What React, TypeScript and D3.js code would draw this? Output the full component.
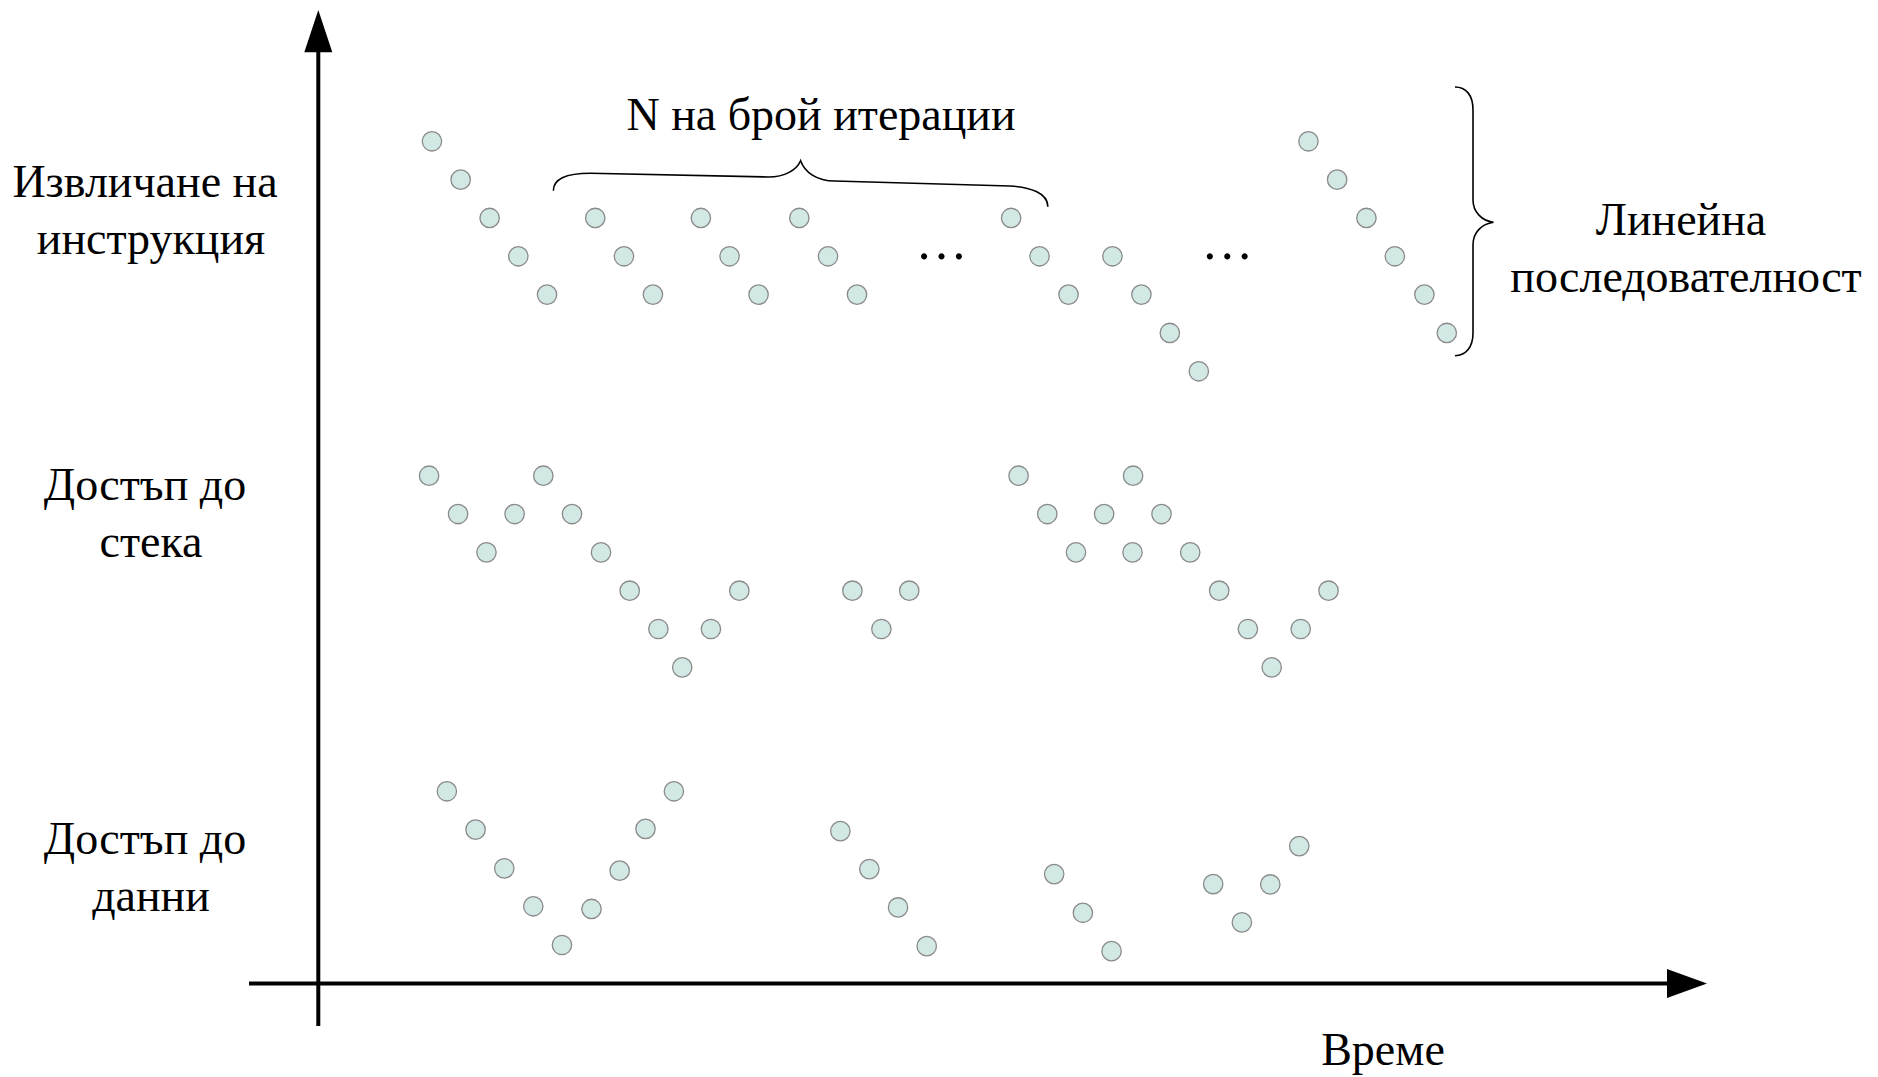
import * as d3 from "d3";
import * as React from "react";

// time in cycles (from the vertical axis), address level within the row
const rows = ["fetch", "stack", "data"];

const fetchPoints: [number, number][] = [
  [3.96, 0], [4.96, 1], [5.97, 2], [6.97, 3], [7.97, 4],
  [9.65, 2], [10.65, 3], [11.66, 4],
  [13.33, 2], [14.33, 3], [15.34, 4],
  [16.76, 2], [17.76, 3], [18.77, 4],
  [24.14, 2], [25.13, 3], [26.14, 4],
  [27.67, 3], [28.68, 4], [29.67, 5], [30.68, 6],
  [34.5, 0], [35.5, 1], [36.52, 2], [37.51, 3], [38.54, 4], [39.32, 5],
];

const stackPoints: [number, number][] = [
  [3.86, 0], [4.87, 1], [5.86, 2], [6.84, 1], [7.84, 0], [8.84, 1],
  [9.85, 2], [10.85, 3], [11.85, 4], [12.68, 5], [13.68, 4], [14.67, 3],
  [18.61, 3], [19.62, 4], [20.59, 3],
  [24.4, 0], [25.4, 1], [26.4, 2], [27.38, 1], [28.39, 0], [28.37, 2],
  [29.38, 1], [30.38, 2], [31.39, 3], [32.39, 4], [33.22, 5], [34.23, 4],
  [35.2, 3],
];

const dataPoints: [number, number][] = [
  [4.48, 0], [5.48, 1.0], [6.48, 2.01], [7.49, 3.0], [8.49, 4.01],
  [9.52, 3.07], [10.5, 2.07], [11.4, 0.98], [12.39, 0],
  [18.19, 1.04], [19.2, 2.03], [20.2, 3.03], [21.2, 4.04],
  [25.64, 2.16], [26.64, 3.17], [27.64, 4.17],
  [31.18, 2.42], [32.18, 3.42], [33.17, 2.43], [34.18, 1.43],
];

const ellipsisTimes = [21.71, 31.67];
const iterationSpan = [8.19, 25.42];

const rowLabels = [
  ["Извличане на", "инструкция"],
  ["Достъп до", "стека"],
  ["Достъп до", "данни"],
];

const W = 1878;
const H = 1077;
const FONT = "'Liberation Serif', 'Times New Roman', serif";

const x = d3.scaleLinear().domain([0, 48]).range([318.3, 318.3 + 48 * 28.7]);
const rowY = d3.scaleOrdinal<string, number>().domain(rows).range([141.3, 475.7, 791.3]);
const level = d3.scaleLinear().domain([0, 1]).range([0, 38.33]);

const labelBaselines = [197, 500, 854];

const Dots = ({ row, points }: { row: string; points: [number, number][] }) => (
  <g>
    {points.map(([t, a], i) => (
      <circle
        key={i}
        cx={x(t)}
        cy={rowY(row) + level(a)}
        r={9.7}
        fill="#d2e8e4"
        stroke="#8a8a8a"
        strokeWidth={1.3}
      />
    ))}
  </g>
);

export default function App() {
  const xl = x(iterationSpan[0]);
  const xr = x(iterationSpan[1]);
  const mid = (xl + xr) / 2;
  const topBrace =
    `M${xl},190.7 C${xl},178 ${xl + 15},173.3 ${xl + 37},173.3 ` +
    `L${mid - 32},177 C${mid - 16},177 ${mid - 4},170 ${mid},160.7 ` +
    `C${mid + 4},172 ${mid + 16},181 ${mid + 34},181 ` +
    `L${xr - 38},186 C${xr - 18},187 ${xr},193 ${xr},206.7`;

  const sideBrace =
    "M1455,87 C1466,87 1473,95 1473,110 L1473,200 C1473,212 1482,221 1493.5,222.3 " +
    "C1482,224 1473,232 1473,245 L1473,333 C1473,347 1466,355.7 1455,355.7";

  return (
    <div style={{ position: "absolute", left: 0, top: 0 }}>
      <svg width={W} height={H} style={{ display: "block", background: "#fff" }}>
        {/* axes */}
        <line x1={318.3} y1={50} x2={318.3} y2={1026} stroke="#000" strokeWidth={4} />
        <path d="M318.3,10 L332.3,52.3 L304.3,52.3 Z" fill="#000" />
        <line x1={249} y1={983.5} x2={1670} y2={983.5} stroke="#000" strokeWidth={4} />
        <path d="M1707,983.5 L1667,969 L1667,998 Z" fill="#000" />

        <Dots row="fetch" points={fetchPoints} />
        <Dots row="stack" points={stackPoints} />
        <Dots row="data" points={dataPoints} />

        {ellipsisTimes.map((t, i) => (
          <text
            key={i}
            x={x(t)}
            y={rowY("fetch") + level(3) + 3}
            textAnchor="middle"
            fontFamily={FONT}
            fontSize={52}
          >
            …
          </text>
        ))}

        <path d={topBrace} fill="none" stroke="#000" strokeWidth={1.6} />
        <path d={sideBrace} fill="none" stroke="#000" strokeWidth={1.6} />

        <g fontFamily={FONT} fontSize={46} fill="#000" textAnchor="middle">
          {rowLabels.map((lines, i) => (
            <text key={i} x={148} y={labelBaselines[i]}>
              <tspan x={145} y={labelBaselines[i]}>{lines[0]}</tspan>
              <tspan x={151} y={labelBaselines[i] + 57}>{lines[1]}</tspan>
            </text>
          ))}
          <text x={821} y={129.5}>N на брой итерации</text>
          <text x={1681} y={235}>Линейна</text>
          <text x={1686} y={292}>последователност</text>
          <text x={1383} y={1065}>Време</text>
        </g>
      </svg>
    </div>
  );
}
